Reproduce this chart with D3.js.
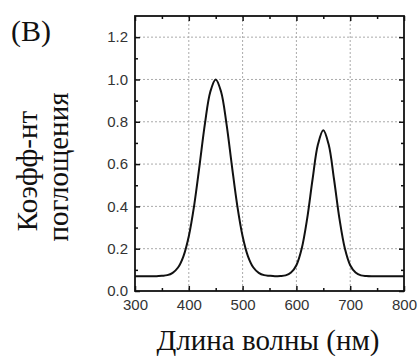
<!DOCTYPE html>
<html>
<head>
<meta charset="utf-8">
<script src="https://cdn.jsdelivr.net/npm/d3@7"></script>
<style>
  body { margin: 0; background: white; }
</style>
</head>
<body>
<div id="chart"></div>
<script>
// absorption spectrum, every 10 nm
var wavelength = [300, 310, 320, 330, 340, 350, 360, 370, 380, 390,
                  400, 410, 420, 430, 440, 450, 460, 470, 480, 490,
                  500, 510, 520, 530, 540, 550, 560, 570, 580, 590,
                  600, 610, 620, 630, 640, 650, 660, 670, 680, 690,
                  700, 710, 720, 730, 740, 750, 760, 770, 780, 790, 800];
var absorb = [0.07, 0.07, 0.07, 0.07, 0.07, 0.072, 0.075, 0.086, 0.111, 0.164,
              0.259, 0.405, 0.594, 0.791, 0.942, 1.0, 0.942, 0.791, 0.594, 0.405,
              0.259, 0.164, 0.111, 0.086, 0.075, 0.072, 0.07, 0.071, 0.074, 0.087,
              0.122, 0.202, 0.342, 0.527, 0.692, 0.76, 0.692, 0.527, 0.342, 0.202,
              0.122, 0.087, 0.074, 0.071, 0.07, 0.07, 0.07, 0.07, 0.07, 0.07, 0.07];

var xTicks = [300, 400, 500, 600, 700, 800];
var xMinor = [350, 450, 550, 650, 750];
var yTicks = [0, 0.2, 0.4, 0.6, 0.8, 1.0, 1.2];
var yMinor = [0.1, 0.3, 0.5, 0.7, 0.9, 1.1];

var svgWidth = 418, svgHeight = 356;
var plotL = 135, plotR = 404, plotT = 16, plotB = 291;

var svg = d3.select('#chart').append('svg')
    .attr('width', svgWidth)
    .attr('height', svgHeight)
    .style('background', 'white');

var x = d3.scaleLinear().domain([300, 800]).range([plotL, plotR]);
var y = d3.scaleLinear().domain([0, 1.3]).range([plotB, plotT]);

// grid
svg.append('g').selectAll('line').data(xTicks.slice(1, -1)).enter().append('line')
    .attr('x1', d => x(d)).attr('x2', d => x(d))
    .attr('y1', plotT).attr('y2', plotB)
    .attr('stroke', '#aaa').attr('stroke-width', 1).attr('stroke-dasharray', '2,2');
svg.append('g').selectAll('line').data(yTicks.slice(1)).enter().append('line')
    .attr('x1', plotL).attr('x2', plotR)
    .attr('y1', d => y(d)).attr('y2', d => y(d))
    .attr('stroke', '#aaa').attr('stroke-width', 1).attr('stroke-dasharray', '2,2');

// axes, ticks pointing inward on all four sides
var fmtY = d3.format('.1f');
var bottomAxis = d3.axisBottom(x).tickValues(xTicks).tickSize(-5).tickPadding(8);
var topAxis = d3.axisTop(x).tickValues(xTicks).tickSize(-5).tickFormat('');
var leftAxis = d3.axisLeft(y).tickValues(yTicks).tickSize(-5).tickPadding(7).tickFormat(fmtY);
var rightAxis = d3.axisRight(y).tickValues(yTicks).tickSize(-5).tickFormat('');

function styleAxis(g) {
    g.select('.domain').remove();
    g.selectAll('.tick line').attr('stroke', '#111').attr('stroke-width', 1.5);
    g.selectAll('text').attr('fill', '#333')
        .style('font-family', '"Liberation Sans", Arial, sans-serif')
        .style('font-size', '15px');
}

svg.append('g').attr('transform', 'translate(0,' + plotB + ')').call(bottomAxis).call(styleAxis);
svg.append('g').attr('transform', 'translate(0,' + plotT + ')').call(topAxis).call(styleAxis);
svg.append('g').attr('transform', 'translate(' + plotL + ',0)').call(leftAxis).call(styleAxis);
svg.append('g').attr('transform', 'translate(' + plotR + ',0)').call(rightAxis).call(styleAxis);

// minor ticks
svg.append('g').attr('transform', 'translate(0,' + plotB + ')')
    .call(d3.axisBottom(x).tickValues(xMinor).tickSize(-3).tickFormat('')).call(styleAxis);
svg.append('g').attr('transform', 'translate(0,' + plotT + ')')
    .call(d3.axisTop(x).tickValues(xMinor).tickSize(-3).tickFormat('')).call(styleAxis);
svg.append('g').attr('transform', 'translate(' + plotL + ',0)')
    .call(d3.axisLeft(y).tickValues(yMinor).tickSize(-3).tickFormat('')).call(styleAxis);
svg.append('g').attr('transform', 'translate(' + plotR + ',0)')
    .call(d3.axisRight(y).tickValues(yMinor).tickSize(-3).tickFormat('')).call(styleAxis);

// frame
svg.append('rect')
    .attr('x', plotL).attr('y', plotT)
    .attr('width', plotR - plotL).attr('height', plotB - plotT)
    .attr('fill', 'none').attr('stroke', '#111').attr('stroke-width', 1.8);

// curve
var line = d3.line()
    .x((d, i) => x(wavelength[i]))
    .y(d => y(d))
    .curve(d3.curveCatmullRom);
svg.append('path')
    .datum(absorb)
    .attr('d', line)
    .attr('fill', 'none')
    .attr('stroke', '#111')
    .attr('stroke-width', 2);

// labels
var serif = '"Liberation Serif", "Times New Roman", serif';
svg.append('text')
    .text('(B)')
    .attr('x', 11).attr('y', 41)
    .style('font-family', serif).style('font-size', '30px').attr('fill', '#111');

svg.append('text')
    .text('Длина волны (нм)')
    .attr('x', 268).attr('y', 350)
    .attr('text-anchor', 'middle')
    .style('font-family', serif).style('font-size', '29px').attr('fill', '#111');

svg.append('text')
    .text('Коэфф-нт')
    .attr('transform', 'translate(37,171) rotate(-90)')
    .attr('text-anchor', 'middle')
    .style('font-family', serif).style('font-size', '29px').attr('fill', '#111');

svg.append('text')
    .text('поглощения')
    .attr('transform', 'translate(68,167) rotate(-90)')
    .attr('text-anchor', 'middle')
    .style('font-family', serif).style('font-size', '29px').attr('fill', '#111');
</script>
</body>
</html>
